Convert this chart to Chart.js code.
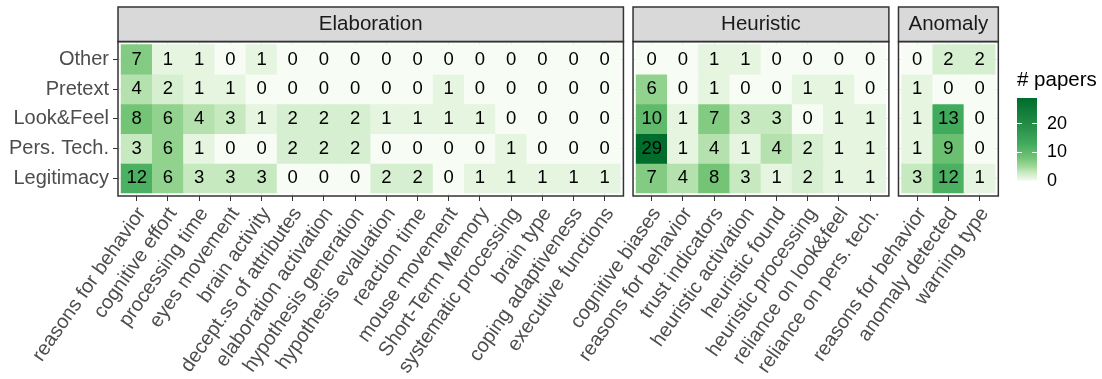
<!DOCTYPE html>
<html>
<head>
<meta charset="utf-8">
<script src="https://cdn.jsdelivr.net/npm/chart.js@4/dist/chart.umd.min.js"></script>
<style>
  html, body { margin: 0; background: #fff; }
  #wrap { position: relative; width: 1102px; height: 379px; }
  #wrap canvas { position: absolute; left: 0; top: 0; }
</style>
</head>
<body>
<div id="wrap">
  <canvas id="elaboration" width="1102" height="379"></canvas>
  <canvas id="heuristic" width="1102" height="379"></canvas>
  <canvas id="anomaly" width="1102" height="379"></canvas>
  <canvas id="legend" width="1102" height="379"></canvas>
</div>
<script>
const rows = ['Other', 'Pretext', 'Look&Feel', 'Pers. Tech.', 'Legitimacy']

const elaborationCols = ['reasons for behavior', 'cognitive effort', 'processing time', 'eyes movement',
  'brain activity', 'decept.ss of attributes', 'elaboration activation', 'hypothesis generation',
  'hypothesis evaluation', 'reaction time', 'mouse movement', 'Short-Term Memory',
  'systematic processing', 'brain type', 'coping adaptiveness', 'executive functions']
const heuristicCols = ['cognitive biases', 'reasons for behavior', 'trust indicators', 'heuristic activation',
  'heuristic found', 'heuristic processing', 'reliance on look&feel', 'reliance on pers. tech.']
const anomalyCols = ['reasons for behavior', 'anomaly detected', 'warning type']

// one inner array per row, same order as rows
const elaborationValues = [
  [7, 1, 1, 0, 1, 0, 0, 0, 0, 0, 0, 0, 0, 0, 0, 0],
  [4, 2, 1, 1, 0, 0, 0, 0, 0, 0, 1, 0, 0, 0, 0, 0],
  [8, 6, 4, 3, 1, 2, 2, 2, 1, 1, 1, 1, 0, 0, 0, 0],
  [3, 6, 1, 0, 0, 2, 2, 2, 0, 0, 0, 0, 1, 0, 0, 0],
  [12, 6, 3, 3, 3, 0, 0, 0, 2, 2, 0, 1, 1, 1, 1, 1]
]
const heuristicValues = [
  [0, 0, 1, 1, 0, 0, 0, 0],
  [6, 0, 1, 0, 0, 1, 1, 0],
  [10, 1, 7, 3, 3, 0, 1, 1],
  [29, 1, 4, 1, 4, 2, 1, 1],
  [7, 4, 8, 3, 1, 2, 1, 1]
]
const anomalyValues = [
  [0, 2, 2],
  [1, 0, 0],
  [1, 13, 0],
  [1, 9, 0],
  [3, 12, 1]
]

const legendTitleText = '# papers'
const legendTicks = [0, 10, 20]
const legendMax = 29

// colour ramp for the fill (value, colour)
const greens = [[0, '#f7fcf5'], [1, '#e5f5e0'], [3, '#c7e9c0'], [5, '#a1d99b'],
  [8, '#74c476'], [13, '#41ab5d'], [20, '#238b45'], [29, '#006d2c']]

const FONT = '"Liberation Sans", Arial, Helvetica, sans-serif'
Chart.defaults.font.family = FONT

const W = 1102
const H = 379
const unit = 31.2     // px per tile
const gap = 9.6       // px between panels
const panelBottom = 196

function hexRgb(h) {
  return [1, 3, 5].map(i => parseInt(h.slice(i, i + 2), 16))
}

function fillFor(v) {
  for (let i = 1; i < greens.length; i++) {
    const [v0, c0] = greens[i - 1]
    const [v1, c1] = greens[i]
    if (v <= v1) {
      const t = (v - v0) / (v1 - v0)
      const a = hexRgb(c0), b = hexRgb(c1)
      const c = a.map((x, k) => Math.round(x + (b[k] - x) * t))
      return `rgb(${c[0]}, ${c[1]}, ${c[2]})`
    }
  }
  return greens[greens.length - 1][1]
}

// grey strip + dark border around each facet
const facetFrame = {
  id: 'facetFrame',
  beforeDraw(chart) {
    const {ctx, chartArea: a, titleBlock: t} = chart
    ctx.save()
    ctx.fillStyle = '#d9d9d9'
    ctx.fillRect(a.left, t.top, a.right - a.left, a.top - t.top)
    ctx.restore()
  },
  afterDraw(chart) {
    const {ctx, chartArea: a, titleBlock: t} = chart
    ctx.save()
    ctx.strokeStyle = '#333333'
    ctx.lineWidth = 1.5
    ctx.strokeRect(a.left, t.top, a.right - a.left, a.top - t.top)
    ctx.strokeRect(a.left, a.top, a.right - a.left, a.bottom - a.top)
    ctx.restore()
  }
}

// counts written in the middle of each tile
const cellText = {
  id: 'cellText',
  afterDatasetsDraw(chart, args, opts) {
    const {ctx} = chart
    ctx.save()
    ctx.font = `18.5px ${FONT}`
    ctx.fillStyle = '#000'
    ctx.textAlign = 'center'
    ctx.textBaseline = 'middle'
    chart.data.datasets.forEach((ds, r) => {
      chart.getDatasetMeta(r).data.forEach((bar, j) => {
        const p = bar.getCenterPoint()
        ctx.fillText(String(opts.values[r][j]), p.x, p.y)
      })
    })
    ctx.restore()
  }
}

function facet(id, title, cols, values, left, first) {
  const width = (cols.length + 0.2) * unit
  const datasets = rows.map((row, r) => ({
    label: row,
    data: cols.map((c, j) => ({x: j + 1, y: [r + 0.5, r + 1.5]})),
    backgroundColor: values[r].map(fillFor),
    borderWidth: 0,
    grouped: false,
    barPercentage: 1,
    categoryPercentage: 1
  }))

  return new Chart(document.getElementById(id), {
    type: 'bar',
    data: {datasets},
    options: {
      responsive: false,
      animation: false,
      events: [],
      datasets: {bar: {barPercentage: 1, categoryPercentage: 1, grouped: false}},
      layout: {padding: {left: first ? 0 : left, right: W - left - width, top: 7, bottom: 0}},
      plugins: {
        legend: {display: false},
        tooltip: {enabled: false},
        title: {
          display: true,
          text: title,
          fullSize: false,
          color: '#1a1a1a',
          font: {size: 20.5, weight: 'normal'},
          padding: {top: 5, bottom: 5}
        },
        cellText: {values}
      },
      scales: {
        x: {
          type: 'linear',
          offset: false,
          min: 0.4,
          max: cols.length + 0.6,
          afterBuildTicks: s => { s.ticks = cols.map((c, j) => ({value: j + 1})) },
          ticks: {
            callback: v => cols[v - 1],
            autoSkip: false,
            minRotation: 55,
            maxRotation: 55,
            labelOffset: 5,
            color: '#4d4d4d',
            font: {size: 20},
            padding: 2
          },
          grid: {offset: false, color: '#ebebeb', tickColor: '#333333', tickLength: 5, lineWidth: 1},
          border: {display: false},
          afterFit: s => { s.height = H - panelBottom; s.paddingLeft = 0; s.paddingRight = 0 }
        },
        y: {
          type: 'linear',
          reverse: true,
          min: 0.4,
          max: rows.length + 0.6,
          afterBuildTicks: s => { s.ticks = rows.map((r, i) => ({value: i + 1})) },
          ticks: {
            display: first,
            callback: v => rows[v - 1],
            color: '#4d4d4d',
            font: {size: 20},
            padding: 4
          },
          grid: {color: '#ebebeb', tickColor: '#333333', tickLength: 5, drawTicks: first, lineWidth: 1},
          border: {display: false},
          afterFit: s => { s.width = first ? left : 0; s.paddingTop = 0; s.paddingBottom = 0 }
        }
      }
    },
    plugins: [facetFrame, cellText]
  })
}

const elabLeft = 118
const heurLeft = elabLeft + (elaborationCols.length + 0.2) * unit + gap
const anomLeft = heurLeft + (heuristicCols.length + 0.2) * unit + gap

facet('elaboration', 'Elaboration', elaborationCols, elaborationValues, elabLeft, true)
facet('heuristic', 'Heuristic', heuristicCols, heuristicValues, heurLeft, false)
facet('anomaly', 'Anomaly', anomalyCols, anomalyValues, anomLeft, false)

// colour bar legend
const legendLeft = 1017
const legendBarWidth = 20
const legendAxisWidth = 40

const legendTitle = {
  id: 'legendTitle',
  afterDraw(chart) {
    const {ctx, chartArea: a} = chart
    ctx.save()
    ctx.font = `20.5px ${FONT}`
    ctx.fillStyle = '#000'
    ctx.textAlign = 'left'
    ctx.textBaseline = 'alphabetic'
    ctx.fillText(legendTitleText, a.left, a.top - 12)
    ctx.restore()
  }
}

new Chart(document.getElementById('legend'), {
  type: 'bar',
  data: {
    labels: [legendTitleText],
    datasets: [{
      data: [[0, legendMax]],
      backgroundColor: c => {
        const {chart} = c
        if (!chart.chartArea) return null
        const y = chart.scales.y
        const g = chart.ctx.createLinearGradient(0, y.getPixelForValue(0), 0, y.getPixelForValue(legendMax))
        greens.forEach(([v, col]) => g.addColorStop(v / legendMax, col))
        return g
      },
      borderWidth: 0,
      barPercentage: 1,
      categoryPercentage: 1
    }]
  },
  options: {
    responsive: false,
    animation: false,
    events: [],
    layout: {padding: {left: legendLeft, right: W - legendLeft - legendBarWidth - legendAxisWidth, top: 98, bottom: H - 181}},
    plugins: {legend: {display: false}, tooltip: {enabled: false}},
    scales: {
      x: {display: false},
      y: {
        position: 'right',
        min: 0,
        max: legendMax,
        afterBuildTicks: s => { s.ticks = legendTicks.map(v => ({value: v})) },
        ticks: {color: '#000', font: {size: 18}, padding: 10},
        grid: {color: '#ffffff', z: 1, drawTicks: false, lineWidth: 1},
        border: {display: false, dash: [5, 10]},
        afterFit: s => { s.width = legendAxisWidth }
      }
    }
  },
  plugins: [legendTitle]
})
</script>
</body>
</html>
